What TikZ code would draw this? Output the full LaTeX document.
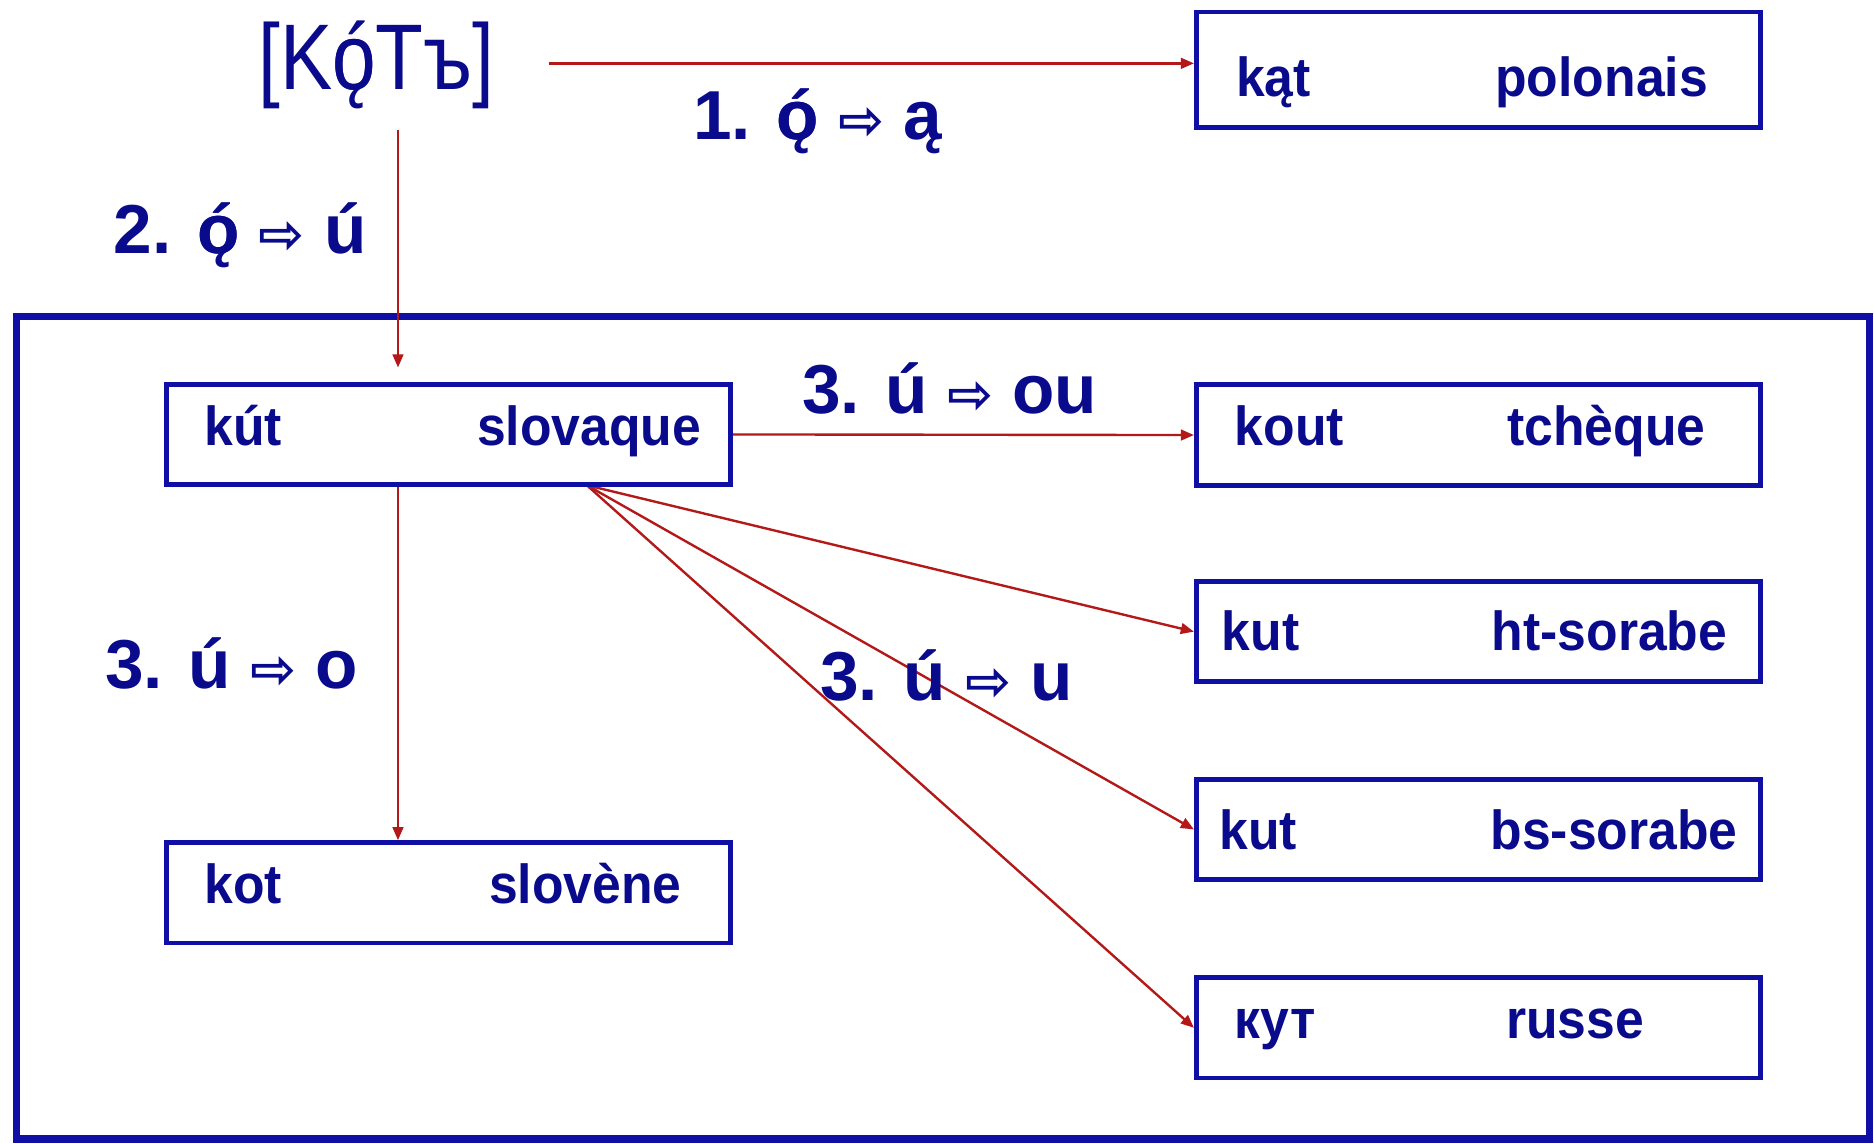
\documentclass[tikz,border=0pt]{standalone}
\usepackage{fontspec}
\setmainfont{Liberation Sans}
\newfontfamily\arrowfont{DejaVu Sans}
\usetikzlibrary{arrows.meta}
\pgfdeclarelayer{edgelayer}
\pgfdeclarelayer{nodelayer}
\pgfsetlayers{edgelayer,nodelayer,main}
\definecolor{textblue}{RGB}{10,10,140}
\definecolor{boxblue}{RGB}{15,15,165}
\definecolor{linkred}{RGB}{180,25,25}
\newcommand{\arr}{{\arrowfont\fontsize{46}{48}\selectfont ⇨}}
\newcommand{\oqa}{\rlap{ǫ}ó}
\newcommand{\squeeze}[1]{\scalebox{0.94}[1]{#1}}
\tikzstyle{none}=[inner sep=0pt]
\tikzstyle{title}=[inner sep=0pt,anchor=base west,text=textblue,font=\fontsize{78}{80}\selectfont]
\tikzstyle{rule}=[inner sep=0pt,anchor=base west,text=textblue,font=\fontsize{58}{60}\selectfont\bfseries]
\tikzstyle{word}=[inner sep=0pt,anchor=base west,text=textblue,font=\fontsize{46}{48}\selectfont\bfseries]
\tikzstyle{langbox}=[rectangle,draw=boxblue,line width=4pt,minimum width=472pt,minimum height=84pt,inner sep=0pt]
\tikzstyle{frame}=[-,draw=boxblue,line width=6pt]
\tikzstyle{redarrow}=[-{Triangle[length=11pt,width=9pt]},draw=linkred,line width=2pt]
\begin{document}
\begin{tikzpicture}[x=1pt,y=-1pt]
	\useasboundingbox (0,0) rectangle (1568,956.4);
	\begin{pgfonlayer}{nodelayer}
		\node [style=title] (root) at (216,75) {\scalebox{0.84}[1]{[K\oqa Tъ]}};
		\node [style=rule] (rule1) at (580,117) {1. \oqa{} \arr{} ą};
		\node [style=rule] (rule2) at (95,212) {2. \oqa{} \arr{} ú};
		\node [style=rule] (rule3ou) at (671,346) {3. ú \arr{} ou};
		\node [style=rule] (rule3o) at (88,576) {3. ú \arr{} o};
		\node [style=rule] (rule3u) at (686,586) {3. ú \arr{} u};
		\node [style=langbox, minimum height=97pt] (pol) at (1237,58.5) {};
		\node [style=word] (pol0) at (1034,81) {\squeeze{kąt}};
		\node [style=word] (pol1) at (1251,81) {\squeeze{polonais}};
		\node [style=langbox] (slv) at (375,363.5) {};
		\node [style=word] (slv0) at (171,372.5) {\squeeze{kút}};
		\node [style=word] (slv1) at (399,372.5) {\squeeze{slovaque}};
		\node [style=langbox] (tch) at (1237,364) {};
		\node [style=word] (tch0) at (1033,372.5) {\squeeze{kout}};
		\node [style=word] (tch1) at (1261,372.5) {\squeeze{tchèque}};
		\node [style=langbox] (hts) at (1237,528.5) {};
		\node [style=word] (hts0) at (1022,544) {\squeeze{kut}};
		\node [style=word] (hts1) at (1248,544) {\squeeze{ht-sorabe}};
		\node [style=langbox] (bss) at (1237,694) {};
		\node [style=word] (bss0) at (1020,711) {\squeeze{kut}};
		\node [style=word] (bss1) at (1247,711) {\squeeze{bs-sorabe}};
		\node [style=langbox] (sln) at (375,747) {};
		\node [style=word] (sln0) at (171,756) {\squeeze{kot}};
		\node [style=word] (sln1) at (409,756) {\squeeze{slovène}};
		\node [style=langbox] (rus) at (1237,860) {};
		\node [style=word] (rus0) at (1033,869) {\squeeze{кут}};
		\node [style=word] (rus1) at (1260,869) {\squeeze{russe}};
		\coordinate (east) at (459,53);
		\coordinate (down) at (333,109);
		\coordinate (fan) at (491,406);
	\end{pgfonlayer}
	\begin{pgfonlayer}{edgelayer}
		\draw [style=frame] (14,265) rectangle (1564,953);
		\draw [style=redarrow] (east) to (east -| pol.west);
		\draw [style=redarrow, shorten >=12pt] (down) to (down |- slv.north);
		\draw [style=redarrow] (down |- slv.south) to (down |- sln.north);
		\draw [style=redarrow] (slv.east) to (tch.west);
		\draw [style=redarrow] (fan) to (hts.west);
		\draw [style=redarrow] (fan) to (bss.west);
		\draw [style=redarrow] (fan) to (rus.west);
	\end{pgfonlayer}
\end{tikzpicture}
\end{document}
